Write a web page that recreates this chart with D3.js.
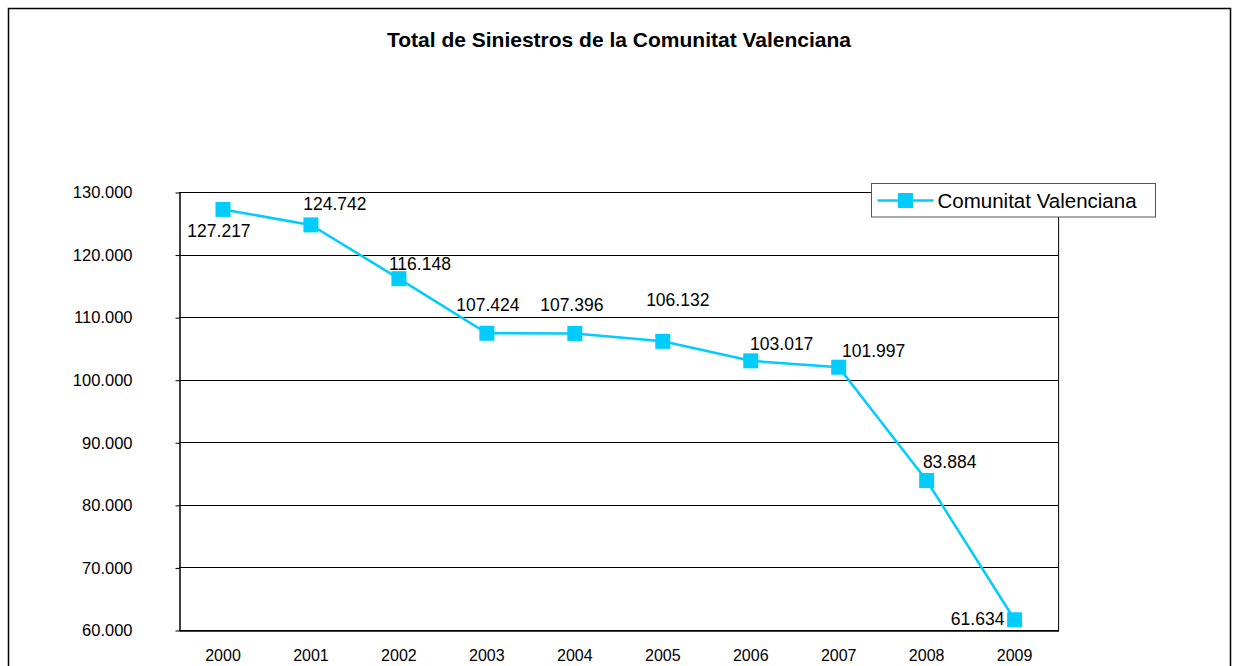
<!DOCTYPE html>
<meta charset="utf-8">
<style>
body { margin: 0; background: #fff; }
text { font-family: Arial, "Liberation Sans", sans-serif; fill: #000; }
.grid line { stroke: #000; stroke-width: 1px; }
.axis path, .axis line { stroke: #000; }
</style>
<body>
<div id="chart"></div>
<script src="https://cdn.jsdelivr.net/npm/d3@7"></script>
<script>

// data
var years = ["2000", "2001", "2002", "2003", "2004", "2005", "2006", "2007", "2008", "2009"];
var siniestros = [127217, 124742, 116148, 107424, 107396, 106132, 103017, 101997, 83884, 61634];
var yTicks = [60000, 70000, 80000, 90000, 100000, 110000, 120000, 130000];
var seriesName = "Comunitat Valenciana";
var chartTitle = "Total de Siniestros de la Comunitat Valenciana";

// where each value label sits relative to its point (dx, dy to baseline)
var labelOffsets = [[-4, 28], [24, -15], [21, -9], [1, -22], [-3, -22],
                    [15, -35], [31, -11], [35, -10], [23, -13], [-37, 5]];

var width = 1236,
    height = 666,
    color = "#00ccff";

var plot = {left: 179, right: 1058.6, top: 192, bottom: 630};

var locale = d3.formatLocale({decimal: ",", thousands: ".", grouping: [3], currency: ["", ""]});
var fmt = locale.format(",.0f");

var svg = d3.select("#chart").append("svg")
    .attr("width", width)
    .attr("height", height);

// chart area border
svg.append("rect")
    .attr("x", 8.5).attr("y", 8.5)
    .attr("width", 1222).attr("height", 700)
    .attr("fill", "#fff")
    .attr("stroke", "#000")
    .attr("stroke-width", 1.5);

svg.append("text")
    .attr("x", 619).attr("y", 47)
    .attr("text-anchor", "middle")
    .style("font-size", "21px")
    .style("font-weight", "bold")
    .text(chartTitle);

var x = d3.scaleBand()
    .domain(years)
    .range([plot.left, plot.right]);

var y = d3.scaleLinear()
    .domain([60000, 130000])
    .range([plot.bottom, plot.top]);

// gridlines
svg.append("g").attr("class", "grid")
    .selectAll("line")
    .data(yTicks)
    .enter().append("line")
    .attr("x1", plot.left).attr("x2", plot.right)
    .attr("y1", function(d) { return Math.round(y(d)) + 0.5; })
    .attr("y2", function(d) { return Math.round(y(d)) + 0.5; });

// right border of plot area
svg.append("line")
    .attr("x1", plot.right).attr("x2", plot.right)
    .attr("y1", plot.top).attr("y2", plot.bottom)
    .attr("stroke", "#000");

// y axis
var yAxis = svg.append("g").attr("class", "axis")
    .attr("transform", "translate(" + (plot.left + 0.5) + ",0.5)")
    .call(d3.axisLeft(y).tickValues(yTicks).tickFormat(fmt).tickSize(4).tickSizeOuter(0).tickPadding(43));
yAxis.selectAll("text").style("font-size", "16.5px").attr("fill", "#000");
yAxis.select(".domain").attr("stroke-width", 1.5);

// x axis
var xAxis = svg.append("g").attr("class", "axis")
    .attr("transform", "translate(0," + (plot.bottom + 0.5) + ")")
    .call(d3.axisBottom(x).tickSize(0).tickPadding(19).tickSizeOuter(0));
xAxis.selectAll("text").style("font-size", "16px").attr("fill", "#000");
xAxis.select(".domain").attr("stroke-width", 1.5);

var cx = function(i) { return x(years[i]) + x.bandwidth() / 2; };

var line = d3.line()
    .x(function(d, i) { return cx(i); })
    .y(function(d) { return y(d); });

svg.append("path")
    .datum(siniestros)
    .attr("d", line)
    .attr("fill", "none")
    .attr("stroke", color)
    .attr("stroke-width", 2.5);

var ms = 15;
svg.selectAll("rect.marker")
    .data(siniestros)
    .enter().append("rect")
    .attr("class", "marker")
    .attr("x", function(d, i) { return cx(i) - ms / 2; })
    .attr("y", function(d) { return y(d) - ms / 2; })
    .attr("width", ms).attr("height", ms)
    .attr("fill", color);

svg.selectAll("text.val")
    .data(siniestros)
    .enter().append("text")
    .attr("class", "val")
    .attr("x", function(d, i) { return cx(i) + labelOffsets[i][0]; })
    .attr("y", function(d, i) { return y(d) + labelOffsets[i][1]; })
    .attr("text-anchor", "middle")
    .style("font-size", "17.5px")
    .text(function(d) { return fmt(d); });

// legend
var lg = svg.append("g").attr("transform", "translate(871.5,183.5)");
lg.append("rect")
    .attr("width", 284).attr("height", 33.5)
    .attr("fill", "#fff")
    .attr("stroke", "#555");
lg.append("line")
    .attr("x1", 6).attr("x2", 62)
    .attr("y1", 17).attr("y2", 17)
    .attr("stroke", color).attr("stroke-width", 2.5);
lg.append("rect")
    .attr("x", 34 - ms / 2).attr("y", 17 - ms / 2)
    .attr("width", ms).attr("height", ms)
    .attr("fill", color);
lg.append("text")
    .attr("x", 66).attr("y", 24)
    .style("font-size", "20.5px")
    .text(seriesName);

</script>
</body>
